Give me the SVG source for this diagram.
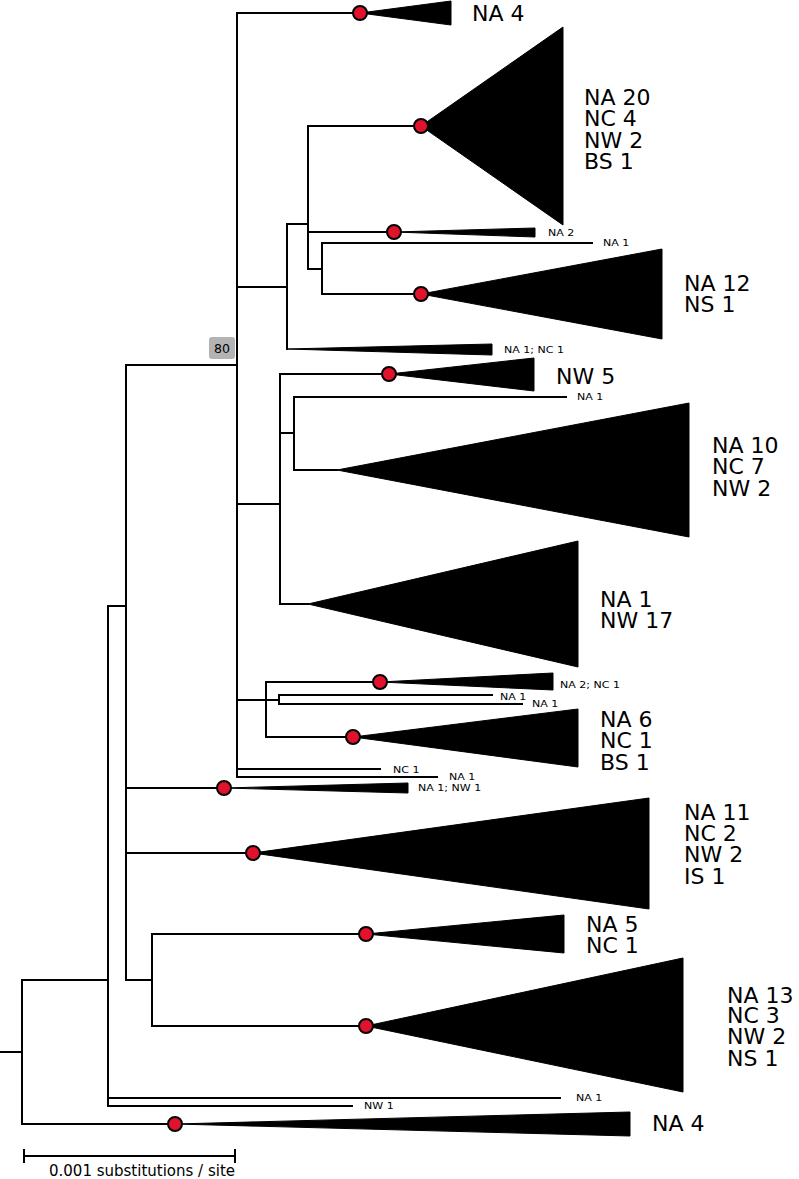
<svg xmlns="http://www.w3.org/2000/svg" width="799" height="1179" viewBox="0 0 799 1179">
<style>
.br{fill:none;stroke:#000;stroke-width:2;stroke-linecap:square}
.tri{fill:#000;stroke:#000;stroke-width:1}
.dot{fill:#e1122b;stroke:#000;stroke-width:2}
.big{font-family:"DejaVu Sans",sans-serif;font-size:22px;fill:#000}
.sm{font-family:"DejaVu Sans",sans-serif;font-size:8.5px;fill:#000}
.sup{font-family:"DejaVu Sans",sans-serif;font-size:12.5px;fill:#000;text-anchor:middle}
.scl{font-family:"DejaVu Sans",sans-serif;font-size:15px;fill:#000}
</style>
<rect width="799" height="1179" fill="#fff"/>
<g id="connectors" class="br">
<path d="M0 1052H22M22 980V1124M22 980H108M22 1124H175"/>
<path d="M108 606V1106M108 606H126M108 1098H560M108 1106H352"/>
<path d="M126 365V980M126 365H237M126 788H224M126 853H253M126 980H152"/>
<path d="M152 934V1026M152 934H366M152 1026H366"/>
<path d="M237 13V777M237 13H360M237 287H287M237 504H280M237 700H266M237 769H380M237 777H437"/>
<path d="M287 224V349M287 224H308"/>
<path d="M308 126V269M308 126H421M308 232H394M308 269H322"/>
<path d="M322 243V294M322 243H592M322 294H421"/>
<path d="M280 374V604M280 374H389M280 433H294M280 604H308"/>
<path d="M294 397V470M294 397H566M294 470H337"/>
<path d="M266 682V737M266 682H380M266 700H279M266 737H353"/>
<path d="M279 695V704M279 695H492M279 704H522"/>
</g>
<g id="support80">
<rect x="209" y="337" width="26" height="22" rx="3" fill="#b3b3b3"/>
<text class="sup" x="222" y="353">80</text>
</g>
<g id="clade-na4-top">
<polygon class="tri" points="360,13 451,1 451,25"/>
<circle class="dot" cx="360" cy="13" r="7"/>
<text class="big" x="472" y="21">NA 4</text>
</g>
<g id="clade-na20">
<polygon class="tri" points="421,126 563,27 563,225"/>
<circle class="dot" cx="421" cy="126" r="7"/>
<text class="big"><tspan x="584" y="105">NA 20</tspan><tspan x="584" y="126">NC 4</tspan><tspan x="584" y="148">NW 2</tspan><tspan x="584" y="169">BS 1</tspan></text>
</g>
<g id="clade-na2">
<polygon class="tri" points="394,232 535,228 535,237"/>
<circle class="dot" cx="394" cy="232" r="7"/>
<text class="sm" transform="translate(548 236) scale(1.3 1)">NA 2</text>
</g>
<g id="tip-na1-a">
<text class="sm" transform="translate(603 246) scale(1.3 1)">NA 1</text>
</g>
<g id="clade-na12">
<polygon class="tri" points="421,294 662,249 662,339"/>
<circle class="dot" cx="421" cy="294" r="7"/>
<text class="big"><tspan x="684" y="291">NA 12</tspan><tspan x="684" y="312">NS 1</tspan></text>
</g>
<g id="clade-na1nc1">
<polygon class="tri" points="287,349 492,344 492,355"/>
<text class="sm" transform="translate(504 353) scale(1.3 1)">NA 1; NC 1</text>
</g>
<g id="clade-nw5">
<polygon class="tri" points="389,374 534,358 534,391"/>
<circle class="dot" cx="389" cy="374" r="7"/>
<text class="big" x="556" y="384">NW 5</text>
</g>
<g id="tip-na1-b">
<text class="sm" transform="translate(577 400) scale(1.3 1)">NA 1</text>
</g>
<g id="clade-na10">
<polygon class="tri" points="337,470 689,403 689,537"/>
<text class="big"><tspan x="712" y="453">NA 10</tspan><tspan x="712" y="474">NC 7</tspan><tspan x="712" y="496">NW 2</tspan></text>
</g>
<g id="clade-nw17">
<polygon class="tri" points="308,604 578,541 578,667"/>
<text class="big"><tspan x="600" y="607">NA 1</tspan><tspan x="600" y="628">NW 17</tspan></text>
</g>
<g id="clade-na2nc1">
<polygon class="tri" points="380,682 553,673 553,690"/>
<circle class="dot" cx="380" cy="682" r="7"/>
<text class="sm" transform="translate(560 688) scale(1.3 1)">NA 2; NC 1</text>
</g>
<g id="tip-na1-c">
<text class="sm" transform="translate(500 700) scale(1.3 1)">NA 1</text>
</g>
<g id="tip-na1-d">
<text class="sm" transform="translate(532 707) scale(1.3 1)">NA 1</text>
</g>
<g id="clade-na6">
<polygon class="tri" points="353,737 578,709 578,767"/>
<circle class="dot" cx="353" cy="737" r="7"/>
<text class="big"><tspan x="600" y="727">NA 6</tspan><tspan x="600" y="748">NC 1</tspan><tspan x="600" y="770">BS 1</tspan></text>
</g>
<g id="tip-nc1">
<text class="sm" transform="translate(393 773) scale(1.3 1)">NC 1</text>
</g>
<g id="tip-na1-e">
<text class="sm" transform="translate(449 780) scale(1.3 1)">NA 1</text>
</g>
<g id="clade-na1nw1">
<polygon class="tri" points="224,788 408,783 408,793"/>
<circle class="dot" cx="224" cy="788" r="7"/>
<text class="sm" transform="translate(418 791) scale(1.3 1)">NA 1; NW 1</text>
</g>
<g id="clade-na11">
<polygon class="tri" points="253,853 649,798 649,909"/>
<circle class="dot" cx="253" cy="853" r="7"/>
<text class="big"><tspan x="684" y="820">NA 11</tspan><tspan x="684" y="841">NC 2</tspan><tspan x="684" y="862">NW 2</tspan><tspan x="684" y="884">IS 1</tspan></text>
</g>
<g id="clade-na5">
<polygon class="tri" points="366,934 564,915 564,953"/>
<circle class="dot" cx="366" cy="934" r="7"/>
<text class="big"><tspan x="586" y="932">NA 5</tspan><tspan x="586" y="953">NC 1</tspan></text>
</g>
<g id="clade-na13">
<polygon class="tri" points="366,1026 683,958 683,1092"/>
<circle class="dot" cx="366" cy="1026" r="7"/>
<text class="big"><tspan x="727" y="1003">NA 13</tspan><tspan x="727" y="1023">NC 3</tspan><tspan x="727" y="1044">NW 2</tspan><tspan x="727" y="1066">NS 1</tspan></text>
</g>
<g id="tip-na1-f">
<text class="sm" transform="translate(576 1101) scale(1.3 1)">NA 1</text>
</g>
<g id="tip-nw1">
<text class="sm" transform="translate(364 1109) scale(1.3 1)">NW 1</text>
</g>
<g id="clade-na4-bottom">
<polygon class="tri" points="175,1124 630,1112 630,1136"/>
<circle class="dot" cx="175" cy="1124" r="7"/>
<text class="big" x="652" y="1131">NA 4</text>
</g>
<g id="scale-bar">
<path class="br" d="M24 1156H235M24 1150V1162M235 1150V1162"/>
<text class="scl" x="49" y="1176">0.001 substitutions / site</text>
</g>
</svg>
